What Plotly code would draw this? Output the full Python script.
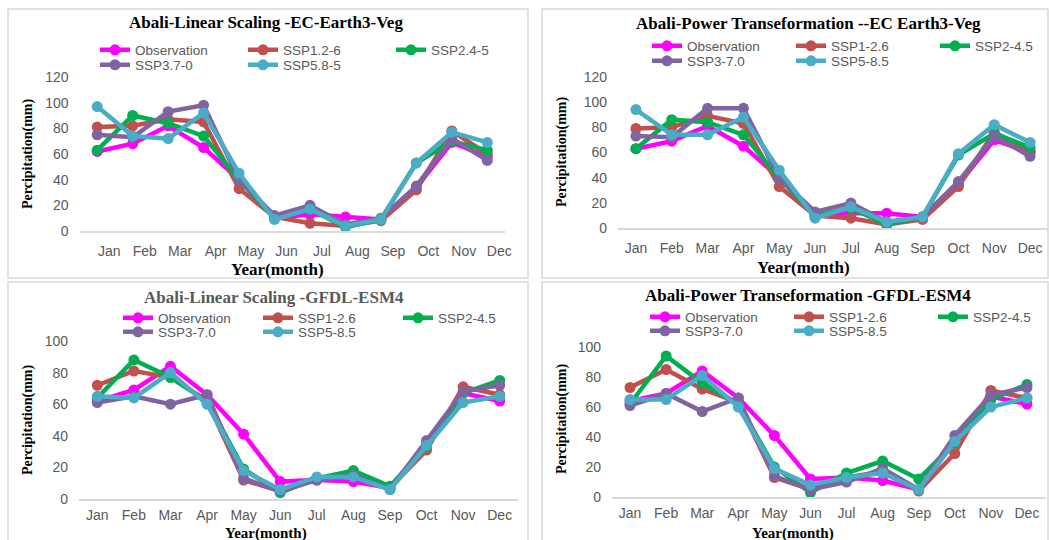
import plotly.graph_objects as go

W, H = 1049, 540

months = ["Jan", "Feb", "Mar", "Apr", "May", "Jun", "Jul", "Aug", "Sep", "Oct", "Nov", "Dec"]

# Panel 1: Linear Scaling - EC-Earth3-Veg
ec_ls_obs = [62, 68, 82, 65, 40, 10, 13, 11, 9, 34, 69, 58]
ec_ls_ssp126 = [81, 82, 87, 85, 33, 11, 6, 4, 8, 32, 78, 60]
ec_ls_ssp245 = [63, 90, 84, 74, 40, 10, 17, 3, 9, 53, 70, 63]
ec_ls_ssp370 = [75, 73, 93, 98, 40, 12, 20, 5, 10, 35, 72, 55]
ec_ls_ssp585 = [97, 74, 72, 92, 45, 9, 17, 4, 9, 53, 77, 69]

# Panel 2: Power Transformation - EC Earth3-Veg
ec_pt_obs = [63, 69, 81, 65, 40, 10, 12, 12, 9, 35, 70, 60]
ec_pt_ssp126 = [79, 80, 89, 83, 33, 10, 8, 3, 7, 33, 76, 61]
ec_pt_ssp245 = [63, 86, 84, 74, 40, 10, 16, 3, 9, 58, 75, 64]
ec_pt_ssp370 = [73, 72, 95, 95, 40, 13, 20, 5, 9, 37, 73, 57]
ec_pt_ssp585 = [94, 74, 74, 88, 46, 8, 17, 5, 9, 59, 82, 68]

# Panel 3: Linear Scaling - GFDL-ESM4
gf_ls_obs = [62, 69, 84, 66, 41, 11, 12, 11, 7, 35, 67, 62]
gf_ls_ssp126 = [72, 81, 77, 62, 12, 5, 13, 16, 7, 31, 71, 66]
gf_ls_ssp245 = [64, 88, 77, 62, 19, 4, 13, 18, 8, 33, 67, 75]
gf_ls_ssp370 = [61, 65, 60, 66, 13, 5, 12, 15, 6, 37, 68, 72]
gf_ls_ssp585 = [65, 64, 80, 60, 18, 6, 14, 14, 6, 34, 61, 65]

# Panel 4: Power Transformation - GFDL-ESM4
gf_pt_obs = [64, 69, 84, 66, 41, 12, 13, 11, 5, 37, 67, 62]
gf_pt_ssp126 = [73, 85, 72, 63, 13, 5, 13, 17, 4, 29, 71, 66]
gf_pt_ssp245 = [62, 94, 76, 62, 20, 3, 16, 24, 12, 36, 65, 75]
gf_pt_ssp370 = [61, 69, 57, 66, 14, 5, 10, 19, 5, 41, 68, 73]
gf_pt_ssp585 = [65, 65, 81, 60, 19, 8, 13, 16, 5, 37, 60, 66]

names_a = ["Observation", "SSP1.2-6", "SSP2.4-5", "SSP3.7-0", "SSP5.8-5"]
names_b = ["Observation", "SSP1-2.6", "SSP2-4.5", "SSP3-7.0", "SSP5-8.5"]
colors = ["#FF00FF", "#C0504D", "#00B050", "#8064A2", "#4BACC6"]

titles = [
    "Abali-Linear Scaling -EC-Earth3-Veg",
    "Abali-Power Transeformation --EC Earth3-Veg",
    "Abali-Linear Scaling -GFDL-ESM4",
    "Abali-Power Transeformation -GFDL-ESM4",
]

def px(x):
    return x / W

def py(y):
    return 1 - y / H

panels = [
    dict(series=[ec_ls_obs, ec_ls_ssp126, ec_ls_ssp245, ec_ls_ssp370, ec_ls_ssp585], names=names_a,
         xdom=(79.5, 505), ydom=(231, 77), yr=(0, 120), shift=12, tstand=6,
         frame=(8, 9, 528, 278), title=(266, 22, "#000000"),
         xt=(277, 269, 17), yt=(28, 154),
         leg1=(137, 50), leg2=(137, 65), ew=103),
    dict(series=[ec_pt_obs, ec_pt_ssp126, ec_pt_ssp245, ec_pt_ssp370, ec_pt_ssp585], names=names_b,
         xdom=(618, 1048), ydom=(228.3, 76.7), yr=(0, 120), shift=0, tstand=6,
         frame=(542, 9, 1048, 278), title=(808, 23, "#000000"),
         xt=(803, 267, 17), yt=(562, 152),
         leg1=(689, 46), leg2=(689, 61), ew=99),
    dict(series=[gf_ls_obs, gf_ls_ssp126, gf_ls_ssp245, gf_ls_ssp370, gf_ls_ssp585], names=names_b,
         xdom=(79, 518), ydom=(499, 341), yr=(0, 100), shift=0, tstand=2,
         frame=(8, 282, 528, 560), title=(274, 297, "#595959"),
         xt=(266, 533, 15), yt=(28, 420),
         leg1=(160, 318), leg2=(160, 332), ew=95),
    dict(series=[gf_pt_obs, gf_pt_ssp126, gf_pt_ssp245, gf_pt_ssp370, gf_pt_ssp585], names=names_b,
         xdom=(612, 1045), ydom=(497, 347), yr=(0, 100), shift=0, tstand=2,
         frame=(542, 282, 1048, 560), title=(808, 295, "#000000"),
         xt=(793, 533, 15), yt=(562, 419),
         leg1=(687, 317), leg2=(687, 331), ew=99),
]

fig = go.Figure()
layout = dict(
    width=W, height=H, margin=dict(l=0, r=0, t=0, b=0, autoexpand=False),
    paper_bgcolor="white", plot_bgcolor="white",
    font=dict(family="Liberation Sans, Arial, sans-serif", color="#595959"),
    shapes=[], annotations=[],
)

serif = "Liberation Serif, Times New Roman, serif"

for i, p in enumerate(panels):
    k = i + 1
    xa = "x" if k == 1 else f"x{k}"
    ya = "y" if k == 1 else f"y{k}"
    lg1 = f"legend{2 * i + 1}" if i > 0 else "legend"
    lg2 = f"legend{2 * i + 2}"
    for j in range(5):
        fig.add_trace(go.Scatter(
            x=months, y=p["series"][j], name=p["names"][j],
            mode="lines+markers", xaxis=xa, yaxis=ya,
            line=dict(color=colors[j], width=4.5),
            marker=dict(color=colors[j], size=11),
            cliponaxis=False,
            legend=lg1 if j < 3 else lg2,
        ))
    layout[f"xaxis{k}" if k > 1 else "xaxis"] = dict(
        domain=[px(p["xdom"][0]), px(p["xdom"][1])], anchor=ya,
        type="category", range=[-0.5, 11.5], showgrid=False, zeroline=False,
        showline=True, linecolor="#D9D9D9", linewidth=1.5, ticks="",
        tickfont=dict(size=14, color="#595959"), ticklabelstandoff=p["tstand"],
        ticklabelshift=p["shift"], fixedrange=True,
    )
    layout[f"yaxis{k}" if k > 1 else "yaxis"] = dict(
        domain=[py(p["ydom"][0]), py(p["ydom"][1])], anchor=xa,
        range=list(p["yr"]), dtick=20, showgrid=False, zeroline=False,
        showline=False, ticks="", tickfont=dict(size=14, color="#595959"),
        ticklabelstandoff=10, fixedrange=True,
    )
    for lg, pos in ((lg1, p["leg1"]), (lg2, p["leg2"])):
        layout[lg] = dict(
            orientation="h", x=px(pos[0] - 42), xanchor="left",
            y=py(pos[1]), yanchor="middle", bgcolor="rgba(0,0,0,0)",
            font=dict(size=13.5, color="#595959", family="Liberation Sans, Arial, sans-serif"),
            entrywidth=p["ew"], entrywidthmode="pixels", tracegroupgap=0,
            itemclick=False, itemdoubleclick=False,
        )
    x0, y0, x1, y1 = p["frame"]
    layout["shapes"].append(dict(
        type="rect", xref="paper", yref="paper",
        x0=px(x0), x1=px(x1), y0=py(y1), y1=py(y0),
        line=dict(color="#D9D9D9", width=1.5), fillcolor="rgba(0,0,0,0)", layer="below",
    ))
    tx, ty, tc = p["title"]
    layout["annotations"].append(dict(
        text=f"<b>{titles[i]}</b>", x=px(tx), y=py(ty), xref="paper", yref="paper",
        xanchor="center", yanchor="middle", showarrow=False,
        font=dict(family=serif, size=17, color=tc),
    ))
    layout["annotations"].append(dict(
        text="<b>Year(month)</b>", x=px(p["xt"][0]), y=py(p["xt"][1]), xref="paper", yref="paper",
        xanchor="center", yanchor="middle", showarrow=False,
        font=dict(family=serif, size=p["xt"][2], color="#000000"),
    ))
    layout["annotations"].append(dict(
        text="<b>Percipitation(mm)</b>", x=px(p["yt"][0]), y=py(p["yt"][1]), xref="paper", yref="paper",
        xanchor="center", yanchor="middle", showarrow=False, textangle=-90,
        font=dict(family=serif, size=14, color="#000000"),
    ))

fig.update_layout(**layout)
fig.write_html("out.html", config={"displayModeBar": False},
               post_script="document.body.style.margin='0';document.body.style.overflow='hidden';")
